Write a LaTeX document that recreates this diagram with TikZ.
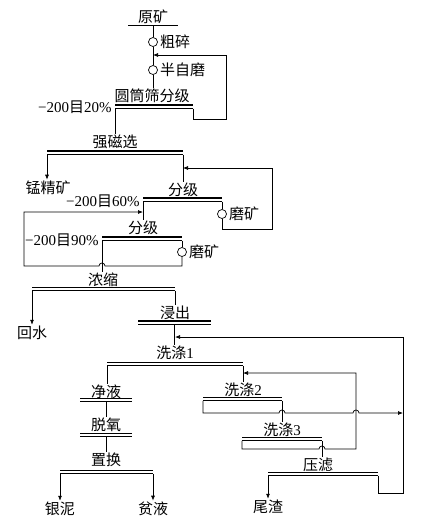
\documentclass[tikz,border=0pt]{standalone}
\usepackage{fontspec}
\setmainfont{Liberation Serif}
\newfontfamily\cjk{Noto Sans CJK SC}
\usetikzlibrary{arrows.meta,positioning}

\begin{document}
\begin{tikzpicture}[x=1pt, y=-1pt, line width=0.7pt,
	every node/.style={inner sep=1pt, font=\fontsize{15}{17}\selectfont\cjk},
	grade/.style={font=\fontsize{15}{17}\selectfont\rmfamily, anchor=east},
	bar/.style={minimum width=#1, minimum height=3.5pt, inner sep=0pt, outer sep=0pt,
		append after command={(\tikzlastnode.north west) edge[line width=1.5pt] (\tikzlastnode.north east)
			(\tikzlastnode.south west) edge[line width=0.8pt] (\tikzlastnode.south east)}},
	mill/.style={circle, draw, minimum size=9pt, inner sep=0pt},
	flow/.style={-{Latex[length=5pt,width=4pt]}}]
	\useasboundingbox (0,0) rectangle (422,520);

	% crushing and SAG mill
	\node (ore) at (153,17) {原矿};
	\draw ([xshift=-25pt]ore.south) -- ([xshift=25pt]ore.south);
	\node[mill] (crush) at (153,42) {};
	\node[right=1pt of crush] (crushlab) {粗碎};
	\node[mill] (sag) at (153,70) {};
	\node[right=1pt of sag] (saglab) {半自磨};
	\node (trommellab) at (152,96) {圆筒筛分级};
	\node[bar=78pt] (trommel) at (154,106.75) {};
	\node[grade] (p20) at (113,107) {−200{\cjk 目}20\%};
	\coordinate (sagin) at (153,55);
	\coordinate (ret1) at (226,119);

	\draw (ore.south) -- (crush.north);
	\draw (crush.south) -- (sag.north);
	\draw (sag.south) -- (sag.south |- trommellab.north);
	\draw[flow] (trommel.south east) |- (ret1) |- (sagin);

	% magnetic separation
	\node (maglab) at (115,142) {强磁选};
	\node[bar=136pt] (mag) at (115,152.75) {};
	\node (mncon) at (48,188) {锰精矿};
	\draw (trommel.south west) -- (trommel.south west |- maglab.north);
	\draw[flow] (mag.south west) -- (mag.south west |- mncon.north);

	% regrinding, two stages
	\node (cls1lab) at (183,190) {分级};
	\node[bar=79pt] (cls1) at (182.5,199.75) {};
	\node[grade] (p60) at (141,201) {−200{\cjk 目}60\%};
	\node[mill] (mill1) at (222,214) {};
	\node[right=1pt of mill1] (mill1lab) {磨矿};
	\coordinate (magin) at (183,168);
	\coordinate (rec1) at (272,229);
	\draw (mag.south east) -- (mag.south east |- cls1lab.north);
	\draw (cls1.south east) -- (mill1.north);
	\draw[flow] (mill1.south) |- (rec1) |- (magin);

	\node (cls2lab) at (143,228) {分级};
	\node[bar=80pt] (cls2) at (142,238.75) {};
	\node[grade] (p90) at (100,240) {−200{\cjk 目}90\%};
	\node[mill] (mill2) at (182,252) {};
	\node[right=1pt of mill2] (mill2lab) {磨矿};
	\coordinate (cls2in) at (143,212);
	\coordinate (rec2) at (24,266);
	\draw (cls1.south west) -- (cls1.south west |- cls2lab.north);
	\draw (cls2.south east) -- (mill2.north);
	\draw[flow] (mill2.south) |- ([xshift=3pt]cls2.south west |- rec2)
		arc[start angle=0, end angle=180, radius=3pt] -- (rec2) |- (cls2in);

	% thickening and leaching
	\node (thklab) at (103,280) {浓缩};
	\node[bar=143pt] (thk) at (103.5,289) {};
	\node (water) at (32,333) {回水};
	\draw (cls2.south west) -- (cls2.south west |- thklab.north);
	\draw[flow] (thk.south west) -- (thk.south west |- water.north);

	\node (leachlab) at (175,313) {浸出};
	\node[bar=73pt] (leach) at (174.5,322.5) {};
	\draw (thk.south east) -- (thk.south east |- leachlab.north);

	% washing
	\node (w1lab) at (175,353) {洗涤{\rmfamily 1}};
	\node[bar=136pt] (w1) at (175,364) {};
	\draw (leach.south) -- (leach.south |- w1lab.north);

	\node (w2lab) at (243,390) {洗涤{\rmfamily 2}};
	\node[bar=79pt] (w2) at (242.5,399) {};
	\node (w3lab) at (282,430) {洗涤{\rmfamily 3}};
	\node[bar=80pt] (w3) at (282,439) {};
	\node (presslab) at (318,465) {压滤};
	\node[bar=110pt] (press) at (323,474) {};
	\node (tail) at (268,507) {尾渣};
	\draw (w1.south east) -- (w1.south east |- w2lab.north);
	\draw (w2.south east) -- (w2.south east |- w3lab.north);
	\draw (w3.south east) -- (w3.south east |- presslab.north);
	\draw[flow] (press.south west) -- (press.south west |- tail.north);

	% solution returns
	\coordinate (leachout) at (175,337);
	\coordinate (w1in) at (243,373);
	\coordinate (w2return) at (403,413);
	\coordinate (w3return) at (356,449);
	\coordinate (pressreturn) at (403,493);
	\draw[flow] (w2.south west) |- ([xshift=-3pt]w2.south east |- w2return)
		arc[start angle=180, end angle=0, radius=3pt] -- ([xshift=-3pt]w3return |- w2return)
		arc[start angle=180, end angle=0, radius=3pt] -- (w2return);
	\draw[flow] (w3.south west) |- ([xshift=-3pt]w3.south east |- w3return)
		arc[start angle=180, end angle=0, radius=3pt] -- (w3return) |- (w1in);
	\draw[flow] (press.south east) |- (pressreturn) |- (leachout);

	% solution treatment
	\node (purlab) at (106,392) {净液};
	\node[bar=52pt] (pur) at (106,400) {};
	\node (deolab) at (106,425) {脱氧};
	\node[bar=52pt] (deo) at (106,435) {};
	\node (cemlab) at (106,460) {置换};
	\node[bar=93pt] (cem) at (106.5,472) {};
	\node (agmud) at (60,509) {银泥};
	\node (barren) at (153,509) {贫液};
	\draw (w1.south west) -- (w1.south west |- purlab.north);
	\draw (pur.south) -- (deolab.north);
	\draw (deo.south) -- (cemlab.north);
	\draw[flow] (cem.south west) -- (cem.south west |- agmud.north);
	\draw[flow] (cem.south east) -- (cem.south east |- barren.north);
\end{tikzpicture}
\end{document}
